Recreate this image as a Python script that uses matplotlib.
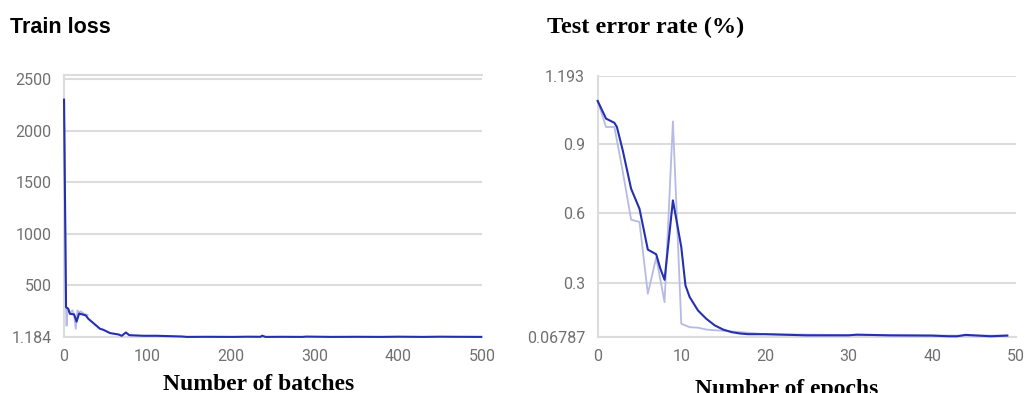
import matplotlib.pyplot as plt

# train loss (smoothed line)
batch_x = [0, 2.4, 5, 7, 12, 15, 18, 21, 26, 29, 35, 43, 47, 55, 65, 69, 74, 78,
           95, 111, 141, 147, 170, 203, 220, 235, 237, 241, 260, 285, 290, 320,
           350, 380, 400, 430, 450, 470, 499]
batch_loss = [2300, 290, 275, 226, 220, 150, 228, 222, 210, 178, 136, 81, 71, 39,
              26, 13, 45, 19, 13, 13, 6, 2, 3, 2, 4, 3, 14, 2, 3, 2, 5, 2,
              3, 2, 4, 2, 4, 3, 2]
# train loss (raw, only visible at the start)
raw_batch_x = [0, 2.4, 3, 4, 5, 7, 10, 12, 14, 16, 18, 20, 24, 28]
raw_batch_loss = [2300, 290, 110, 258, 270, 230, 260, 215, 80, 258, 240, 250, 225, 215]

# test error rate (smoothed line)
epoch_x = [0, 1, 2, 2.3, 3, 4, 5, 6, 7, 7.5, 8, 9, 10, 10.5, 11, 12, 13, 14, 15,
           16, 17, 18, 20, 25, 30, 31, 35, 40, 42, 43, 44, 47, 49]
epoch_err = [1.084, 1.008, 0.99, 0.972, 0.871, 0.706, 0.62, 0.444, 0.424, 0.362,
             0.314, 0.656, 0.455, 0.29, 0.24, 0.182, 0.146, 0.118, 0.10, 0.089,
             0.083, 0.080, 0.080, 0.075, 0.075, 0.078, 0.075, 0.074, 0.071, 0.071,
             0.077, 0.071, 0.074]
# test error rate (raw)
raw_epoch_x = [0, 1, 2, 3, 4, 5, 6, 7, 8, 9, 10, 11, 12, 13, 14, 15, 20, 30, 40, 49]
raw_epoch_err = [1.084, 0.972, 0.972, 0.78, 0.573, 0.563, 0.254, 0.41, 0.218, 0.996,
                 0.125, 0.11, 0.108, 0.10, 0.097, 0.095, 0.08, 0.076, 0.074, 0.074]

dark = '#2530b0'
light = '#b6bae4'
grid_c = '#dcdcdc'
tick_c = '#707070'

fig = plt.figure(figsize=(10.28, 3.93), dpi=100)
ax1 = fig.add_axes([0.0623, 0.1425, 0.4066, 0.667])
ax2 = fig.add_axes([0.5814, 0.1425, 0.4066, 0.665])

ax1.plot(raw_batch_x, raw_batch_loss, color=light, lw=1.3, zorder=3, clip_on=False)
ax1.plot(batch_x, batch_loss, color=dark, lw=1.5, zorder=4, clip_on=False)
ax1.set_xlim(0, 500)
ax1.set_ylim(1.184, 2540)
ax1.set_yticks([1.184, 500, 1000, 1500, 2000, 2500])
ax1.set_yticklabels(['1.184', '500', '1000', '1500', '2000', '2500'])
ax1.set_xticks([0, 100, 200, 300, 400, 500])

ax2.plot(raw_epoch_x, raw_epoch_err, color=light, lw=1.3, zorder=3, clip_on=False)
ax2.plot(epoch_x, epoch_err, color=dark, lw=1.5, zorder=4, clip_on=False)
ax2.set_xlim(0, 50)
ax2.set_ylim(0.06787, 1.193)
ax2.set_yticks([0.06787, 0.3, 0.6, 0.9, 1.193])
ax2.set_yticklabels(['0.06787', '0.3', '0.6', '0.9', '1.193'])
ax2.set_xticks([0, 10, 20, 30, 40, 50])

for ax in (ax1, ax2):
    ax.grid(axis='y', color=grid_c, lw=1.5)
    ax.set_axisbelow(True)
    ax.spines['right'].set_visible(False)
    for s in ('left', 'bottom', 'top'):
        ax.spines[s].set_color(grid_c)
        ax.spines[s].set_linewidth(1.5)
    ax.tick_params(length=0, labelcolor=tick_c, labelsize=11.5, pad=9)
    for lab in ax.get_xticklabels() + ax.get_yticklabels():
        lab.set_family('Roboto')
ax2.spines['top'].set_visible(False)

fig.text(0.0097, 0.93, 'Train loss', fontsize=15.5, fontweight='bold',
         family='Liberation Sans', va='center', ha='left')
fig.text(0.532, 0.93, 'Test error rate (%)', fontsize=17.5, fontweight='bold',
         family='Liberation Serif', va='center', ha='left')
fig.text(0.252, 0.008, 'Number of batches', fontsize=17, fontweight='bold',
         family='Liberation Serif', va='baseline', ha='center')
fig.text(0.765, -0.004, 'Number of epochs', fontsize=17, fontweight='bold',
         family='Liberation Serif', va='baseline', ha='center')

fig.savefig('out.png', dpi=100)
